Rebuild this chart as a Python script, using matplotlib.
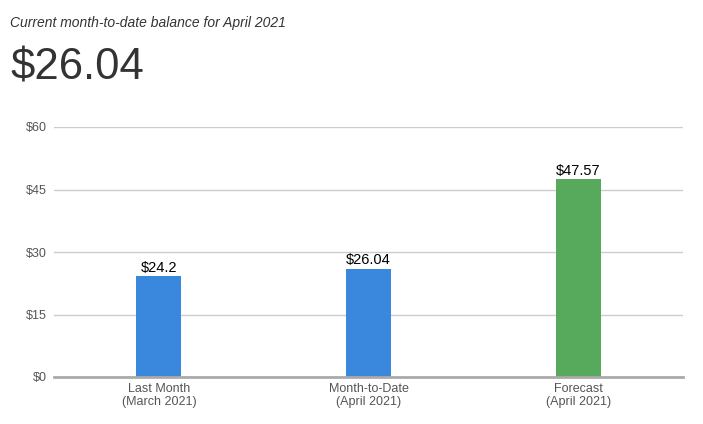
import matplotlib.pyplot as plt

plt.rcParams['font.family'] = ['Liberation Sans', 'DejaVu Sans']

categories = ['Last Month\n(March 2021)', 'Month-to-Date\n(April 2021)', 'Forecast\n(April 2021)']
values = [24.2, 26.04, 47.57]
value_labels = ['$24.2', '$26.04', '$47.57']
bar_colors = ['#3a88dd', '#3a88dd', '#57a95c']
yticks = [0, 15, 30, 45, 60]
ytick_labels = ['$0', '$15', '$30', '$45', '$60']

fig = plt.figure(figsize=(7.03, 4.24), dpi=100)
ax = fig.add_axes([54/703, 1 - 377/424, 629/703, 250/424])

x = range(len(categories))
ax.bar(x, values, width=0.215, color=bar_colors, zorder=3)
for i, v in enumerate(values):
    ax.text(i, v + 0.3, value_labels[i], ha='center', va='bottom', fontsize=10.5, color='black')

ax.set_xlim(-0.5, 2.5)
ax.set_ylim(0, 60)
ax.set_yticks(yticks)
ax.set_yticklabels(ytick_labels, fontsize=9, color='#555555')
ax.set_xticks(list(x))
ax.set_xticklabels(categories, fontsize=9, color='#555555', linespacing=1.15)
ax.tick_params(axis='y', length=0, pad=5)
ax.tick_params(axis='x', length=0, pad=4)

ax.grid(axis='y', color='#cccccc', linewidth=1, zorder=0)
for s in ['top', 'right', 'left']:
    ax.spines[s].set_visible(False)
ax.spines['bottom'].set_color('#aaaaaa')
ax.spines['bottom'].set_linewidth(2)
ax.spines['bottom'].set_zorder(4)

fig.text(10/703, 1 - 27/424, 'Current month-to-date balance for April 2021', fontsize=10,
         style='italic', color='#333333', ha='left', va='baseline')
fig.text(10/703, 1 - 80/424, '$26.04', fontsize=31.5, color='#333333', ha='left', va='baseline')

fig.savefig('out.png', dpi=100)
